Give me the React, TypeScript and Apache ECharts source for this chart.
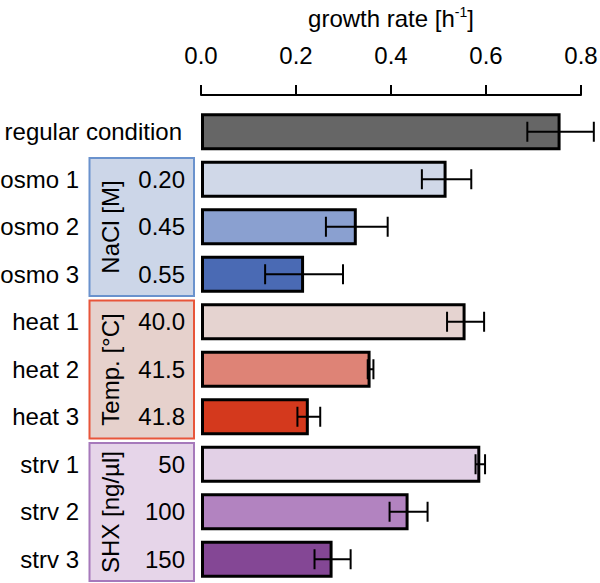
import React, { useEffect, useRef } from "react";
import * as echarts from "echarts";

const categories = ["regular condition", "osmo 1", "osmo 2", "osmo 3", "heat 1", "heat 2", "heat 3", "strv 1", "strv 2", "strv 3"];
const conditionValues = ["", "0.20", "0.45", "0.55", "40.0", "41.5", "41.8", "50", "100", "150"];
const growthRates = [0.757, 0.517, 0.328, 0.217, 0.557, 0.357, 0.227, 0.588, 0.437, 0.277];
const errors = [0.07, 0.052, 0.065, 0.082, 0.039, 0.006, 0.024, 0.01, 0.04, 0.038];
const barColors = ["#666666", "#d0d8e8", "#8aa0d0", "#4a6ab4", "#e5d3d0", "#de8376", "#d4391d", "#e2d0e6", "#b283c0", "#844795"];
const xTicks = [0, 0.2, 0.4, 0.6, 0.8];
const groups = [
  { label: "NaCl [M]", from: 1, to: 3, fill: "#ccd6e8", stroke: "#6a92cd" },
  { label: "Temp. [°C]", from: 4, to: 6, fill: "#e6d1cc", stroke: "#e8553a" },
  { label: "SHX [ng/µl]", from: 7, to: 9, fill: "#e6d5e9", stroke: "#a679bb" },
];

const FONT = "Liberation Sans, Arial, sans-serif";

export default function App() {
  const ref = useRef<HTMLDivElement>(null);
  useEffect(() => {
    if (!ref.current) return;
    const chart = echarts.init(ref.current, null, { renderer: "svg" });
    const gridTop = 108;
    const gridHeight = 475;
    const band = gridHeight / categories.length;

    const graphics: any[] = [];
    groups.forEach((g) => {
      const y0 = gridTop + g.from * band + 2.5;
      const y1 = gridTop + (g.to + 1) * band - 2;
      graphics.push({
        type: "rect",
        z: 0,
        shape: { x: 89.5, y: y0, width: 104.5, height: y1 - y0 },
        style: { fill: g.fill, stroke: g.stroke, lineWidth: 2 },
      });
      graphics.push({
        type: "text",
        z: 1,
        x: 110,
        y: (y0 + y1) / 2,
        rotation: Math.PI / 2,
        style: {
          text: g.label,
          fontSize: 24,
          fontFamily: FONT,
          fill: "#000",
          align: "center",
          verticalAlign: "middle",
        },
      });
    });

    chart.setOption({
      animation: false,
      grid: { left: 201, right: 19, top: gridTop, height: gridHeight, containLabel: false, outerBoundsMode: "none" },
      xAxis: {
        type: "value",
        position: "top",
        offset: 13,
        min: 0,
        max: 0.8,
        interval: 0.2,
        name: "growth rate [h{sup|-1}]",
        nameLocation: "middle",
        nameGap: 64,
        nameTextStyle: {
          fontSize: 24,
          fontFamily: FONT,
          color: "#000",
          rich: { sup: { fontSize: 14, fontFamily: FONT, color: "#000", verticalAlign: "top", padding: [0, 0, 12, 0] } },
        },
        axisLine: { show: true, lineStyle: { color: "#000", width: 2 } },
        axisTick: { show: true, inside: false, length: 10, lineStyle: { color: "#000", width: 2 } },
        axisLabel: {
          margin: 28,
          fontSize: 24,
          fontFamily: FONT,
          color: "#000",
          formatter: (v: number) => v.toFixed(1),
          customValues: xTicks,
        },
        splitLine: { show: false },
      },
      yAxis: {
        type: "category",
        data: categories,
        inverse: true,
        z: 10,
        axisLine: { show: false },
        axisTick: { show: false },
        axisLabel: {
          margin: 16,
          fontFamily: FONT,
          fontSize: 24,
          color: "#000",
          formatter: (v: string, i: number) => {
            const val = conditionValues[i];
            if (!val) return `{r|${v}}`;
            return `{n|${v}}{g| }{v|${val}}`;
          },
          rich: {
            r: { fontSize: 24, fontFamily: FONT, color: "#000", padding: [0, 3, 0, 0] },
            n: { fontSize: 24, fontFamily: FONT, color: "#000", width: 90, align: "right" },
            g: { fontSize: 24, fontFamily: FONT, width: 46 },
            v: { fontSize: 24, fontFamily: FONT, color: "#000", width: 60, align: "right" },
          },
        },
      },
      series: [
        {
          type: "bar",
          data: growthRates.map((v, i) => ({ value: v, itemStyle: { color: barColors[i] } })),
          barWidth: 37,
          itemStyle: { borderColor: "#000", borderWidth: 3 },
          z: 2,
        },
        {
          type: "custom",
          z: 5,
          data: growthRates.map((v, i) => [v, i, errors[i]]),
          renderItem: (params: any, api: any) => {
            const v = api.value(0);
            const idx = api.value(1);
            const e = api.value(2);
            const lo = api.coord([v - e, idx]);
            const hi = api.coord([v + e, idx]);
            const cap = 10;
            const style = { stroke: "#000", lineWidth: 2 };
            return {
              type: "group",
              children: [
                { type: "line", shape: { x1: lo[0], y1: lo[1], x2: hi[0], y2: hi[1] }, style },
                { type: "line", shape: { x1: lo[0], y1: lo[1] - cap, x2: lo[0], y2: lo[1] + cap }, style },
                { type: "line", shape: { x1: hi[0], y1: hi[1] - cap, x2: hi[0], y2: hi[1] + cap }, style },
              ],
            };
          },
        },
      ],
      graphic: graphics,
    });
    return () => chart.dispose();
  }, []);
  return <div ref={ref} style={{ position: "absolute", left: 0, top: 0, width: 600, height: 583 }} />;
}
